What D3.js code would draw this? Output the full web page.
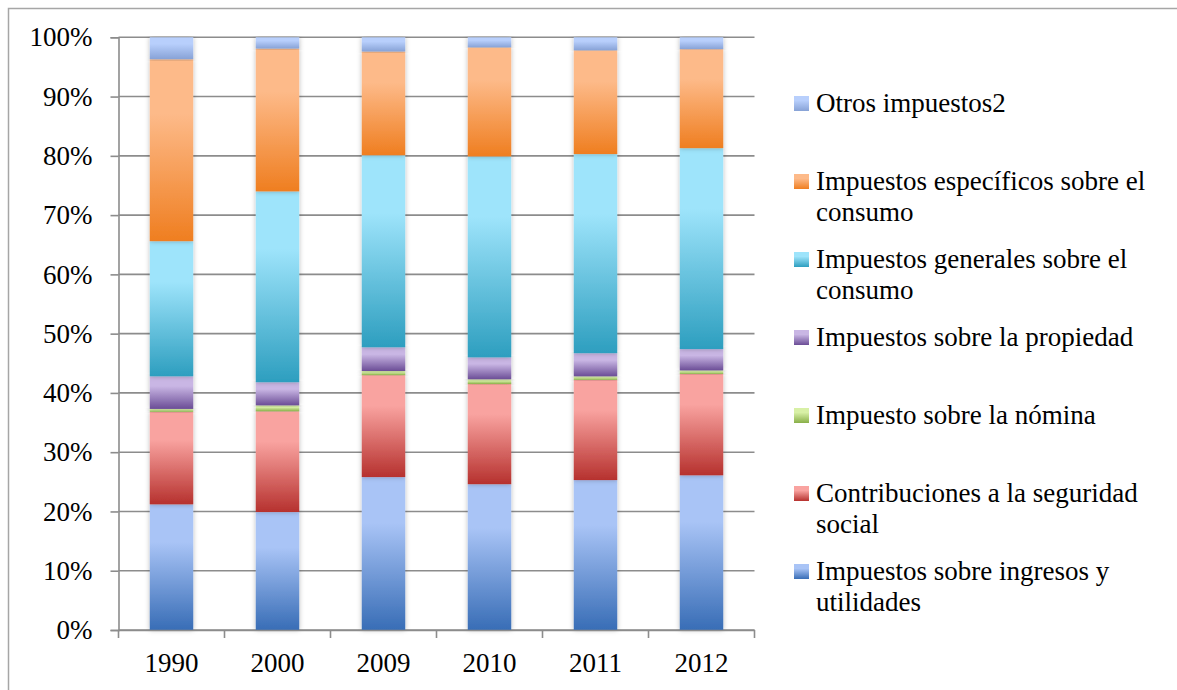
<!DOCTYPE html>
<html>
<head>
<meta charset="utf-8">
<script src="https://cdn.jsdelivr.net/npm/d3@7"></script>
<style>
  html, body { margin: 0; padding: 0; background: #fff; }
  svg { display: block; }
</style>
</head>
<body>
<svg id="chart" width="1177" height="690"></svg>
<script>
// data (percent of total per year)
const years = ["1990", "2000", "2009", "2010", "2011", "2012"];
const ingresos = [21.2, 19.9, 25.8, 24.6, 25.3, 26.1];
const seguridadSocial = [15.6, 17.0, 17.2, 16.9, 16.9, 17.1];
const nomina = [0.5, 1.0, 0.7, 0.8, 0.6, 0.6];
const propiedad = [5.5, 3.9, 4.0, 3.7, 3.9, 3.6];
const generales = [22.8, 32.2, 32.4, 33.9, 33.6, 33.9];
const especificos = [30.7, 24.1, 17.5, 18.4, 17.5, 16.7];
const otros = [3.7, 1.9, 2.4, 1.7, 2.2, 2.0];

const seriesNames = [
  "Impuestos sobre ingresos y utilidades",
  "Contribuciones a la seguridad social",
  "Impuesto sobre la nómina",
  "Impuestos sobre la propiedad",
  "Impuestos generales sobre el consumo",
  "Impuestos específicos sobre el consumo",
  "Otros impuestos2",
];
const seriesValues = [ingresos, seguridadSocial, nomina, propiedad, generales, especificos, otros];

// gradient stops, light on top -> dark at the bottom
const gradTop = ["#a9c4f6", "#f9a3a0", "#d8f0a6", "#c9b6e4", "#9ee4fb", "#fdba89", "#b8cffc"];
const gradBottom = ["#386db6", "#b6312e", "#89af48", "#6b4d96", "#2d9ebf", "#ef7e20", "#87a2d6"];

const FONT = "'Liberation Serif', 'DejaVu Serif', 'Times New Roman', serif";

const rows = years.map((y, i) => {
  const r = { year: y };
  seriesNames.forEach((s, k) => (r[s] = seriesValues[k][i]));
  return r;
});

const svg = d3.select("#chart");

// outer frame
svg.append("rect")
  .attr("x", 8.5).attr("y", 8.5)
  .attr("width", 1200).attr("height", 700)
  .attr("fill", "#fff")
  .attr("stroke", "#a6a6a6")
  .attr("stroke-width", 1.5);

const defs = svg.append("defs");
seriesNames.forEach((s, k) => {
  const g = defs.append("linearGradient")
    .attr("id", "grad" + k)
    .attr("x1", 0).attr("y1", 0).attr("x2", 0).attr("y2", 1);
  g.append("stop").attr("offset", "0%").attr("stop-color", gradTop[k]);
  g.append("stop").attr("offset", "30%").attr("stop-color", gradTop[k]);
  g.append("stop").attr("offset", "100%").attr("stop-color", gradBottom[k]);
});

const shadow = defs.append("filter").attr("id", "shadow")
  .attr("x", "-30%").attr("y", "-5%").attr("width", "160%").attr("height", "110%");
shadow.append("feDropShadow")
  .attr("dx", 0).attr("dy", 0)
  .attr("stdDeviation", 2.5)
  .attr("flood-color", "#000")
  .attr("flood-opacity", 0.28);

const x = d3.scaleBand()
  .domain(years)
  .range([118.5, 754.5])
  .paddingInner(0.59)
  .paddingOuter(0.295);

const y = d3.scaleLinear().domain([0, 1]).range([630, 37.3]);

// gridlines
svg.append("g")
  .selectAll("line")
  .data(y.ticks(10))
  .join("line")
  .attr("x1", 118.5).attr("x2", 754.5)
  .attr("y1", (d) => y(d)).attr("y2", (d) => y(d))
  .attr("stroke", "#8c8c8c")
  .attr("stroke-width", 1.6);

// y axis
const yAxis = svg.append("g")
  .attr("transform", "translate(118.5,0)")
  .call(d3.axisLeft(y).ticks(10).tickFormat(d3.format(".0%")).tickSize(8).tickPadding(18));
yAxis.attr("font-family", FONT).attr("font-size", 27);
yAxis.select(".domain").attr("stroke", "#8c8c8c").attr("stroke-width", 1.6);
yAxis.selectAll(".tick line").attr("stroke", "#8c8c8c").attr("stroke-width", 1.6);

// stacked bars
const stacked = d3.stack().keys(seriesNames).offset(d3.stackOffsetExpand)(rows);

svg.append("g")
  .selectAll("g")
  .data(stacked)
  .join("g")
  .attr("fill", (d, k) => `url(#grad${k})`)
  .selectAll("rect")
  .data((d) => d)
  .join("rect")
  .attr("x", (d) => x(d.data.year))
  .attr("width", x.bandwidth())
  .attr("y", (d) => y(d[1]))
  .attr("height", (d) => y(d[0]) - y(d[1]))
  .attr("filter", "url(#shadow)");

// x axis
const xAxis = svg.append("g")
  .attr("transform", "translate(0,630)")
  .call(d3.axisBottom(x).tickSize(0).tickPadding(23));
xAxis.attr("font-family", FONT).attr("font-size", 27);
xAxis.select(".domain").attr("stroke", "#8c8c8c").attr("stroke-width", 1.6);

// category boundary ticks
const gap = (x.step() - x.bandwidth()) / 2;
const bounds = years.map((yr) => x(yr) - gap).concat([x(years[years.length - 1]) + x.bandwidth() + gap]);
xAxis.append("g")
  .selectAll("line")
  .data(bounds)
  .join("line")
  .attr("x1", (d) => d).attr("x2", (d) => d)
  .attr("y1", 0).attr("y2", 8)
  .attr("stroke", "#8c8c8c")
  .attr("stroke-width", 1.6);

// legend, top entry is the last series
const legend = svg.append("g")
  .attr("font-family", FONT)
  .attr("font-size", 27);
const legendOrder = seriesNames.map((s, k) => k).reverse();
const maxTextWidth = 355;
const lineHeight = 31;

legendOrder.forEach((k, i) => {
  const cy = 103 + i * 78;
  const item = legend.append("g");
  item.append("rect")
    .attr("x", 794).attr("y", cy - 7)
    .attr("width", 15).attr("height", 15)
    .attr("fill", `url(#grad${k})`);

  const text = item.append("text").attr("fill", "#000");

  // simple word wrap
  const words = seriesNames[k].split(" ");
  let line = [];
  let lineNo = 0;
  let tspan = text.append("tspan").attr("x", 816).attr("y", cy).attr("dy", "0.35em");
  words.forEach((w) => {
    line.push(w);
    tspan.text(line.join(" "));
    if (tspan.node().getComputedTextLength() > maxTextWidth && line.length > 1) {
      line.pop();
      tspan.text(line.join(" "));
      line = [w];
      lineNo++;
      tspan = text.append("tspan")
        .attr("x", 816)
        .attr("y", cy + lineNo * lineHeight)
        .attr("dy", "0.35em")
        .text(w);
    }
  });
});
</script>
</body>
</html>
